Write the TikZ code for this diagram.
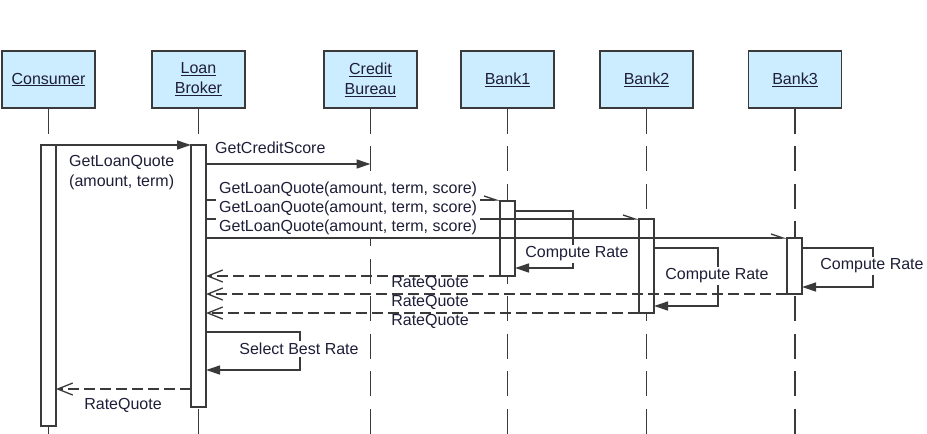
\documentclass[tikz,border=0pt]{standalone}
\usepackage{fontspec}
\setmainfont{Liberation Sans}
\usetikzlibrary{arrows.meta}
\definecolor{ln}{HTML}{3A3A3A}
\definecolor{boxfill}{HTML}{CCECFF}
\definecolor{txt}{HTML}{1E1E38}
\begin{document}
\begin{tikzpicture}[x=1pt,y=-1pt,
  every node/.style={font=\fontsize{16}{20}\selectfont, text=txt},
  obj/.style={draw=ln, line width=1.8pt, fill=boxfill, minimum width=93pt, minimum height=57pt, align=center, inner sep=0pt},
  life/.style={draw=ln, line width=1.5pt, dash pattern=on 25pt off 12.5pt},
  act/.style={draw=ln, line width=1.3pt, fill=white},
  msg/.style={draw=ln, line width=1.3pt, -{Triangle[length=14pt,width=9pt]}},
  ret/.style={draw=ln, line width=1.3pt, dash pattern=on 11pt off 5pt, -{Straight Barb[length=15pt,width=12pt]}},
  async/.style={draw=ln, line width=1.3pt, -{Straight Barb[left,length=12pt,width=8pt]}},
  lbl/.style={fill=white, inner sep=2pt},
  qlbl/.style={fill=white, anchor=south west, minimum height=19pt, inner xsep=3pt, inner ysep=0pt},
]
\path[use as bounding box] (0,0) rectangle (927,434);

% objects
\node[obj] (cons) at (48.5,79.5) {\underline{Consumer}};
\node[obj] (lb)   at (198.5,79.5) {\underline{Loan}\\\underline{Broker}};
\node[obj] (cb)   at (370.5,79.5) {\underline{Credit}\\\underline{Bureau}};
\node[obj] (b1)   at (507.5,79.5) {\underline{Bank1}};
\node[obj] (b2)   at (646.5,79.5) {\underline{Bank2}};
\node[obj] (b3)   at (795,79.5) {\underline{Bank3}};

% lifeline ends
\coordinate (consE) at (48.5,434);
\coordinate (lbE)   at (198.5,434);
\coordinate (cbE)   at (370.5,434);
\coordinate (b1E)   at (507.5,434);
\coordinate (b2E)   at (646.5,434);
\coordinate (b3E)   at (795,434);
\draw[life] (cons.south) -- (consE);
\draw[life] (lb.south) -- (lbE);
\draw[life] (cb.south) -- (cbE);
\draw[life] (b1.south) -- (b1E);
\draw[life] (b2.south) -- (b2E);
\draw[life] (b3.south) -- (b3E);

% activations
\draw[act] (41,145) rectangle (56,426);
\draw[act] (191,145) rectangle (206,407);
\draw[act] (500,201) rectangle (515,276);
\draw[act] (639,219) rectangle (654,313);
\draw[act] (787,238) rectangle (802,294);

% message end points
\coordinate (m1a) at (56,145);   \coordinate (m1b) at (191,145);
\coordinate (m2a) at (206,164);  \coordinate (m2b) at (370.5,164);
\coordinate (q1a) at (206,200);  \coordinate (q1b) at (500,200);
\coordinate (q2a) at (206,219);  \coordinate (q2b) at (639,219);
\coordinate (q3a) at (206,238);  \coordinate (q3b) at (787,238);
\coordinate (r1a) at (500,276);  \coordinate (r1b) at (206,276);
\coordinate (r3a) at (787,294);  \coordinate (r3b) at (206,294);
\coordinate (r2a) at (639,313);  \coordinate (r2b) at (206,313);
\coordinate (rfa) at (191,389);  \coordinate (rfb) at (56,389);

\draw[msg] (m1a) -- (m1b);
\draw[msg] (m2a) -- (m2b);
\draw[async] (q1a) -- (q1b);
\draw[async] (q2a) -- (q2b);
\draw[async] (q3a) -- (q3b);

% self calls
\draw[msg] (515,211) -- (573,211) -- (573,268) -- (515,268);
\draw[msg] (654,248) -- (718,248) -- (718,306) -- (654,306);
\draw[msg] (802,248) -- (873,248) -- (873,287) -- (802,287);
\draw[msg] (206,332) -- (300,332) -- (300,370) -- (206,370);

% returns
\draw[ret] (r1a) -- (r1b);
\draw[ret] (r3a) -- (r3b);
\draw[ret] (r2a) -- (r2b);
\draw[ret] (rfa) -- (rfb);

% labels
\node[anchor=west, align=left, inner sep=0pt] (l1) at (69,173) {GetLoanQuote\\(amount, term)};
\node[anchor=west, inner sep=0pt] (l2) at (215,148) {GetCreditScore};
\node[qlbl] (lq1) at (216,199) {GetLoanQuote(amount, term, score)};
\node[qlbl] (lq2) at (216,218) {GetLoanQuote(amount, term, score)};
\node[qlbl] (lq3) at (216,237) {GetLoanQuote(amount, term, score)};
\node[lbl] (c1) at (577,254) {Compute Rate};
\node[lbl] (c2) at (717,276) {Compute Rate};
\node[lbl] (c3) at (872,266) {Compute Rate};
\node[inner sep=0pt] (rq1) at (430,283) {RateQuote};
\node[inner sep=0pt] (rq2) at (430,302) {RateQuote};
\node[inner sep=0pt] (rq3) at (430,321) {RateQuote};
\node[lbl] (sb) at (299,349) {Select Best Rate};
\node[inner sep=0pt] (rq4) at (123,405) {RateQuote};
\end{tikzpicture}
\end{document}
